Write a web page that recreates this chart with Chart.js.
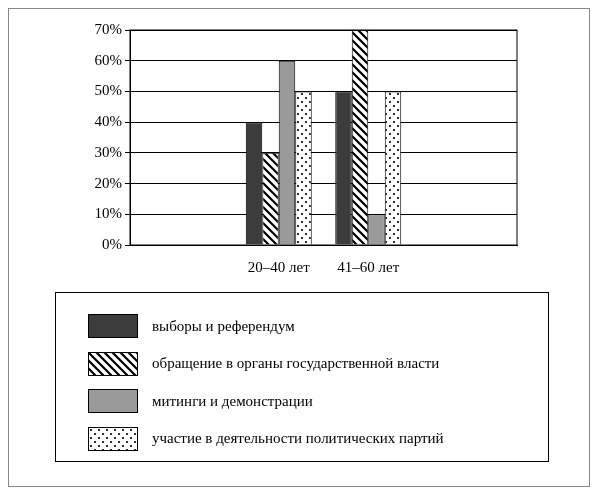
<!DOCTYPE html>
<html><head><meta charset="utf-8">
<script src="https://cdn.jsdelivr.net/npm/chart.js@4/dist/chart.umd.min.js"></script>
<style>
body{margin:0;background:#fff;font-family:"Liberation Serif",serif;}
#frame{position:absolute;left:8px;top:8px;width:580px;height:477px;border:1px solid #888;}
#wrap{position:absolute;left:0;top:0;width:598px;height:290px;}
#legend{position:absolute;left:55px;top:292px;width:492px;height:168px;border:1.5px solid #000;}
.row{position:absolute;left:32px;height:22px;display:flex;align-items:center;font-size:15px;}
.row canvas{border:1px solid #000;margin-right:14px;}
</style></head><body>
<div id="frame"></div>
<div id="wrap"><canvas id="c"></canvas></div>
<div id="legend"></div>
<script>
// data
const categories = ['20–40 лет', '41–60 лет'];
const seriesNames = ['выборы и референдум', 'обращение в органы государственной власти', 'митинги и демонстрации', 'участие в деятельности политических партий'];
const elections = [40, 50];
const appeals = [30, 70];
const rallies = [60, 10];
const parties = [50, 50];
const yTicks = [0, 10, 20, 30, 40, 50, 60, 70];

function hatch() {
  const c = document.createElement('canvas'); c.width = 8; c.height = 8;
  const x = c.getContext('2d');
  x.fillStyle = '#fff'; x.fillRect(0, 0, 8, 8);
  x.strokeStyle = '#000'; x.lineWidth = 2.2;
  x.beginPath(); x.moveTo(-2, -2); x.lineTo(10, 10); x.moveTo(-10, -2); x.lineTo(2, 10); x.moveTo(6, -2); x.lineTo(18, 10); x.stroke();
  return x.createPattern(c, 'repeat');
}
function dots() {
  const c = document.createElement('canvas'); c.width = 8; c.height = 8;
  const x = c.getContext('2d');
  x.fillStyle = '#fff'; x.fillRect(0, 0, 8, 8);
  x.fillStyle = '#000';
  x.beginPath(); x.arc(2, 2, 1.1, 0, 7); x.arc(6, 6, 1.1, 0, 7); x.fill();
  return x.createPattern(c, 'repeat');
}
const fills = ['#3c3c3c', hatch(), '#9a9a9a', dots()];
const values = [elections, appeals, rallies, parties];

const frameBox = {
  id: 'frameBox',
  afterDraw(ch) {
    const a = ch.chartArea, x = ch.ctx;
    x.save(); x.strokeStyle = '#000'; x.lineWidth = 1;
    x.strokeRect(a.left, a.top, a.right - a.left, a.bottom - a.top); x.restore();
  }
};

new Chart(document.getElementById('c'), {
  type: 'bar',
  data: {
    datasets: values.map((v, i) => ({
      label: seriesNames[i], data: v.map((y, k) => ({ x: k, y: y })), backgroundColor: fills[i],
      borderColor: '#000', borderWidth: 1
    }))
  },
  options: {
    responsive: true, maintainAspectRatio: false, animation: false,
    layout: { padding: { top: 30, right: 81, left: 0, bottom: 0 } },
    datasets: { bar: { categoryPercentage: 0.737, barPercentage: 1 } },
    plugins: { legend: { display: false }, tooltip: { enabled: false } },
    scales: {
      x: {
        type: 'linear', min: -0.581, max: 1.581,
        afterBuildTicks: s => { s.ticks = categories.map((c, k) => ({ value: k })); },
        grid: { display: false },
        border: { color: '#000' },
        ticks: { color: '#000', font: { family: 'Liberation Serif', size: 15 }, padding: 6, callback: v => categories[v] },
        afterFit: s => { s.height = 45; }
      },
      y: {
        min: 0, max: 70,
        afterBuildTicks: s => { s.ticks = yTicks.map(v => ({ value: v })); },
        grid: { color: '#000', tickLength: 5 },
        border: { color: '#000' },
        ticks: { color: '#000', font: { family: 'Liberation Serif', size: 15 }, callback: v => v + '%', padding: 3 },
        afterFit: s => { s.width = 130; }
      }
    }
  },
  plugins: [frameBox]
});

const lg = document.getElementById('legend');
seriesNames.forEach((n, i) => {
  const r = document.createElement('div'); r.className = 'row';
  r.style.top = (22 + i * 37.5) + 'px';
  const sw = document.createElement('canvas'); sw.width = 48; sw.height = 22;
  const x = sw.getContext('2d'); x.fillStyle = fills[i]; x.fillRect(0, 0, 48, 22);
  r.appendChild(sw);
  const t = document.createElement('span'); t.textContent = n; r.appendChild(t);
  lg.appendChild(r);
});
</script>
</body></html>
